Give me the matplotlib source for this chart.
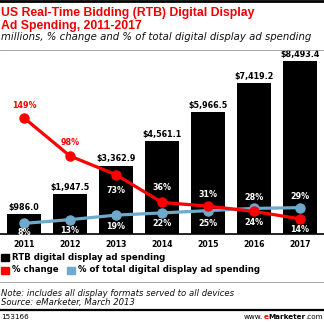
import matplotlib
matplotlib.use("Agg")
import matplotlib.pyplot as plt
from matplotlib.patches import Rectangle
from matplotlib.lines import Line2D

# data
years = ["2011", "2012", "2013", "2014", "2015", "2016", "2017"]
spending = [986.0, 1947.5, 3362.9, 4561.1, 5966.5, 7419.2, 8493.4]
pct_change = [149, 98, 73, 36, 31, 24, 14]
pct_share = [8, 13, 19, 22, 25, 28, 29]

RED = "#ff0000"
BLUE = "#6fa9cc"
W, H = 324, 322


def fx(px):
    return px / W


def fy(py):
    return 1 - py / H


fig = plt.figure(figsize=(W / 100, H / 100), dpi=100)

# plot area
ax = fig.add_axes([0, fy(234), 1, (234 - 52) / H])
x = list(range(len(years)))
ax.bar(x, spending, width=0.74, color="black", zorder=1)
ax.set_xlim(-0.52, 6.52)
ax.set_ylim(0, 8493.4 * 182 / 173)
for s in ["top", "left", "right"]:
    ax.spines[s].set_visible(False)
ax.spines["bottom"].set_linewidth(1.2)
ax.set_yticks([])
ax.set_xticks(x)
ax.set_xticklabels(years, fontsize=5.6, fontweight="bold")
ax.tick_params(axis="x", length=0, pad=4)

for i, v in enumerate(spending):
    ax.annotate(f"${v:,.1f}", (i, v), xytext=(0, 1.5), textcoords="offset points",
                ha="center", va="bottom", fontsize=5.8, fontweight="bold")

# percentages on a second scale
ax2 = ax.twinx()
ax2.set_ylim(-6.2, (182 - 4.5) / 0.73 - 6.2)
ax2.axis("off")
ax2.plot(x, pct_share, color=BLUE, lw=2.3, marker="o", ms=6.5, zorder=3)
ax2.plot(x, pct_change, color=RED, lw=2.3, marker="o", ms=6.5, zorder=4)

# label offsets in pixels (positive = above the point)
change_off = [12, 14, -16, 15, 12, -11, -11]
share_off = [-9, -10.5, -11.5, -11, -13, 11, 11]
for i in x:
    col = RED if i < 2 else "white"
    ax2.annotate(f"{pct_change[i]}%", (i, pct_change[i]), xytext=(0, change_off[i] * 0.72),
                 textcoords="offset points", ha="center", va="center",
                 fontsize=5.8, fontweight="bold", color=col, zorder=5)
    ax2.annotate(f"{pct_share[i]}%", (i, pct_share[i]), xytext=(0, share_off[i] * 0.72),
                 textcoords="offset points", ha="center", va="center",
                 fontsize=5.8, fontweight="bold", color="white", zorder=5)

# header
fig.add_artist(Line2D([0, 1], [fy(1), fy(1)], color="black", lw=2))
title_font = ["Liberation Sans Narrow", "Liberation Sans", "DejaVu Sans"]
fig.text(fx(1), fy(16), "US Real-Time Bidding (RTB) Digital Display", color="#ee0000",
         fontsize=8.8, fontweight="bold", family=title_font, va="baseline")
fig.text(fx(1), fy(29), "Ad Spending, 2011-2017", color="#ee0000",
         fontsize=8.8, fontweight="bold", family=title_font, va="baseline")
fig.text(fx(1), fy(40), "millions, % change and % of total digital display ad spending",
         fontsize=7.3, style="italic", color="#111111", va="baseline")
fig.add_artist(Line2D([0, 1], [fy(49.5), fy(49.5)], color="#999999", lw=0.6))

# legend
legend_rows = [
    [("black", "RTB digital display ad spending", 1)],
    [(RED, "% change", 1), (BLUE, "% of total digital display ad spending", 67)],
]
for r, row in enumerate(legend_rows):
    cy = 257 + 13 * r
    for col, label, lx in row:
        fig.add_artist(Rectangle((fx(lx), fy(cy + 3.5)), 8 / W, 7 / H, color=col,
                                 transform=fig.transFigure))
        fig.text(fx(lx + 11), fy(cy), label, fontsize=6.2, fontweight="bold", va="center")

fig.add_artist(Line2D([0, 1], [fy(282), fy(282)], color="#999999", lw=0.6))
fig.text(fx(1), fy(293), "Note: includes all display formats served to all devices",
         fontsize=6.1, style="italic", color="#111111", va="center")
fig.text(fx(1), fy(303), "Source: eMarketer, March 2013",
         fontsize=6.1, style="italic", color="#111111", va="center")
fig.add_artist(Line2D([0, 1], [fy(309.5), fy(309.5)], color="black", lw=1.6))

# footer
fig.text(fx(1), fy(317), "153166", fontsize=5.2, va="center")
t = fig.text(fx(323), fy(317), ".com", fontsize=5.2, va="center", ha="right")
t = ax.annotate("Marketer", xy=(0, 0), xycoords=t, ha="right", va="bottom",
                fontsize=5.2, fontweight="bold", annotation_clip=False)
t = ax.annotate("e", xy=(0, 0), xycoords=t, ha="right", va="bottom",
                fontsize=5.2, fontweight="bold", color=RED, annotation_clip=False)
ax.annotate("www.", xy=(0, 0), xycoords=t, ha="right", va="bottom",
            fontsize=5.2, annotation_clip=False)

fig.savefig("out.png", dpi=100)
